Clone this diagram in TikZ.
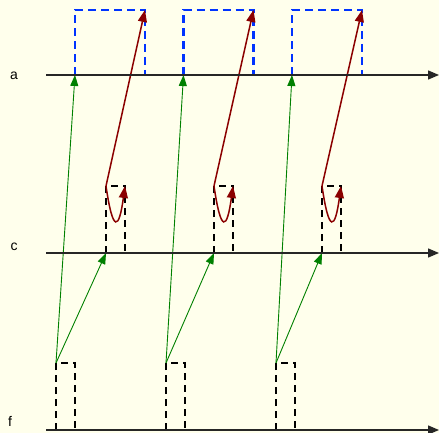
\documentclass[tikz,border=0pt]{standalone}
\usepackage{fontspec}
\setmainfont{Liberation Sans}
\usepackage{xcolor}
\usetikzlibrary{positioning, arrows.meta, calc}
\definecolor{bgyellow}{RGB}{255,255,236}
\definecolor{pblue}{RGB}{0,51,255}
\definecolor{pgreen}{RGB}{0,128,0}
\definecolor{pred}{RGB}{139,0,0}

\begin{document}
\begin{tikzpicture}[x=1pt, y=-1pt,
        every node/.style={font=\fontsize{14}{16}\selectfont, inner sep=0pt},
        axis/.style={draw=black!85, line width=1.3pt, -{Triangle[length=11pt, width=9pt]}},
        pulse/.style={draw=black, line width=2.2pt, dash pattern=on 7pt off 5pt},
        window/.style={draw=pblue, line width=2.2pt, dash pattern=on 8pt off 5pt},
        fire/.style={draw=pgreen, line width=0.9pt, -{Triangle[length=11pt, width=8pt]}},
        back/.style={draw=pred, line width=1.5pt, -{Triangle[length=12pt, width=9pt]}}]
      \useasboundingbox[fill=bgyellow] (0,0) rectangle (439,433);

      % the three time axes
      \node (la) at (14,76) {a};
      \node (lc) at (14,247) {c};
      \node (lf) at (10,421) {f};
      \coordinate (aS) at (46,75);  \coordinate (aE) at (439,75);
      \coordinate (cS) at (46,253); \coordinate (cE) at (439,253);
      \coordinate (fS) at (46,430); \coordinate (fE) at (439,430);

      \foreach \i in {0,1,2} {
        \pgfmathsetmacro{\dx}{108.5*\i}
        \pgfmathsetmacro{\dc}{108*\i}
        \pgfmathsetmacro{\df}{110*\i}
        % pulse on f, pulse on c, window on a
        \coordinate (fL\i) at (56+\df,430);  \coordinate (fT\i) at (56+\df,363);
        \coordinate (fR\i) at (75+\df,363);  \coordinate (fB\i) at (75+\df,430);
        \coordinate (cL\i) at (106+\dc,253); \coordinate (cT\i) at (106+\dc,186);
        \coordinate (cR\i) at (125+\dc,186); \coordinate (cB\i) at (125+\dc,253);
        \coordinate (aL\i) at (75+\dx,75);   \coordinate (aT\i) at (75+\dx,10);
        \coordinate (aR\i) at (145+\dx,10);  \coordinate (aB\i) at (145+\dx,75);
        \draw[pulse] (fL\i) -- (fT\i) -- (fR\i) -- (fB\i);
        \draw[pulse] (cL\i) -- (cT\i) -- (cR\i) -- (cB\i);
        \draw[window] (aL\i) -- (aT\i) -- (aR\i) -- (aB\i);

        \draw[fire] (fT\i) -- (cL\i);
        \draw[fire] (fT\i) -- (aL\i);
        \draw[back] (cT\i) .. controls ($(cT\i)+(7,48)$) and ($(cR\i)+(-6,44)$) .. (cR\i);
        \draw[back] (cT\i) -- (aR\i);
      }

      \draw[axis] (aS) -- (aE);
      \draw[axis] (cS) -- (cE);
      \draw[axis] (fS) -- (fE);
    \end{tikzpicture}
\end{document}
